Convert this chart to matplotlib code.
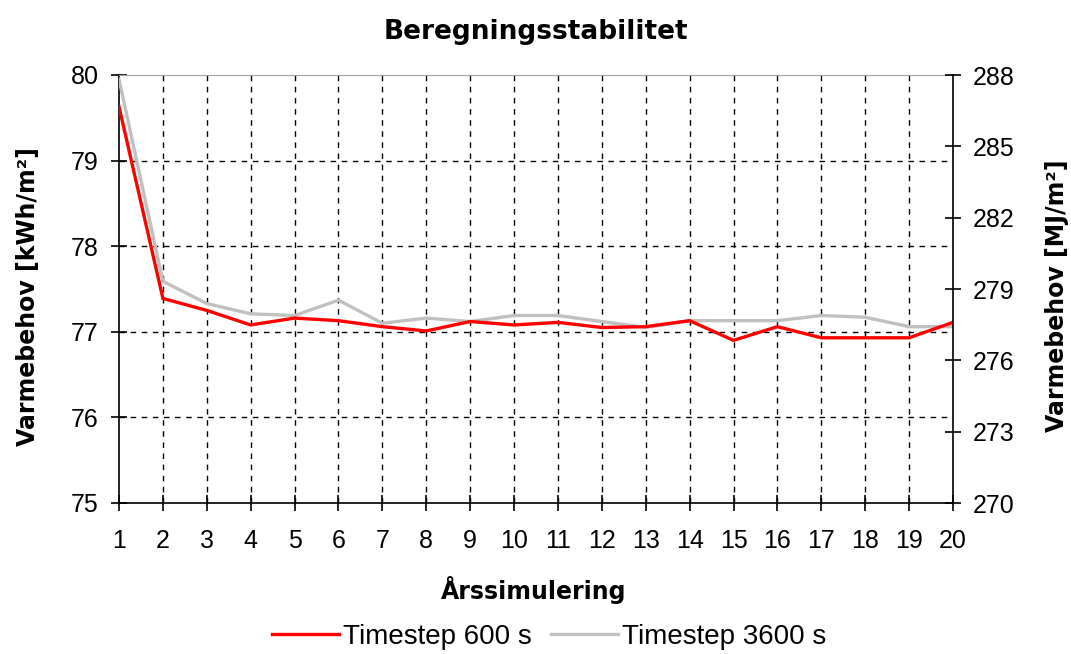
import matplotlib.pyplot as plt
import numpy as np

plt.rcParams['font.family'] = ['Liberation Sans', 'DejaVu Sans']

years = list(range(1, 21))
timestep_600 = [79.63, 77.39, 77.25, 77.08, 77.16, 77.13, 77.06, 77.01, 77.12, 77.08,
                77.11, 77.05, 77.06, 77.13, 76.90, 77.06, 76.93, 76.93, 76.93, 77.11]
timestep_3600 = [79.95, 77.59, 77.33, 77.21, 77.19, 77.37, 77.10, 77.16, 77.12, 77.19,
                 77.19, 77.12, 77.05, 77.13, 77.13, 77.13, 77.19, 77.17, 77.06, 77.06]
left_ticks = [75, 76, 77, 78, 79, 80]
right_ticks = [270, 273, 276, 279, 282, 285, 288]

fig = plt.figure(figsize=(10.71, 6.54), dpi=100)
ax = fig.add_axes([119 / 1071, 1 - 503 / 654, (953 - 119) / 1071, (503 - 75) / 654])

ax.plot(years, timestep_3600, color='#c0c0c0', lw=2.4, label='Timestep 3600 s', zorder=3)
ax.plot(years, timestep_600, color='#ff0000', lw=2.4, label='Timestep 600 s', zorder=4)

ax.set_xlim(1, 20)
ax.set_ylim(75, 80)
ax.set_xticks(years)
ax.set_yticks(left_ticks)

# dashed grid, only the inner lines
for x in years[1:-1]:
    ax.axvline(x, color='black', lw=1, ls=(0, (4, 4)), zorder=1)
for y in left_ticks[1:-1]:
    ax.axhline(y, color='black', lw=1, ls=(0, (4, 4)), zorder=1)

ax.spines['top'].set_color('#a0a0a0')
ax.spines['right'].set_visible(False)
for s in ['left', 'bottom']:
    ax.spines[s].set_linewidth(1.2)
ax.tick_params(direction='inout', length=11, width=1.2, labelsize=18, pad=9, colors='black')
ax.tick_params(axis='x', pad=13)

ax2 = ax.twinx()
ax2.set_ylim(270, 288)
ax2.set_yticks(right_ticks)
ax2.spines['top'].set_visible(False)
ax2.spines['left'].set_visible(False)
ax2.spines['bottom'].set_visible(False)
ax2.spines['right'].set_linewidth(1.2)
ax2.tick_params(direction='inout', length=11, width=1.2, labelsize=18, pad=9)

bold = dict(fontweight='bold', family='DejaVu Sans')
fig.text(28 / 1071, 1 - 297 / 654, 'Varmebehov [kWh/m²]', rotation=90,
         ha='center', va='center', fontsize=17, **bold)
fig.text(1057 / 1071, 1 - 296 / 654, 'Varmebehov [MJ/m²]', rotation=90,
         ha='center', va='center', fontsize=17, **bold)

fig.text(0.5, 1 - 32 / 654, 'Beregningsstabilitet', ha='center', va='center',
         fontsize=19, **bold)
fig.text(534 / 1071, 1 - 590 / 654, 'Årssimulering', ha='center', va='center',
         fontsize=17, **bold)

h, l = ax.get_legend_handles_labels()
fig.legend(h[::-1], l[::-1], loc='center', bbox_to_anchor=(549 / 1071, 1 - 637 / 654), ncol=2,
           frameon=False, fontsize=20, handlelength=2.4, handletextpad=0.15, columnspacing=0.7)

fig.savefig('out.png', dpi=100)
